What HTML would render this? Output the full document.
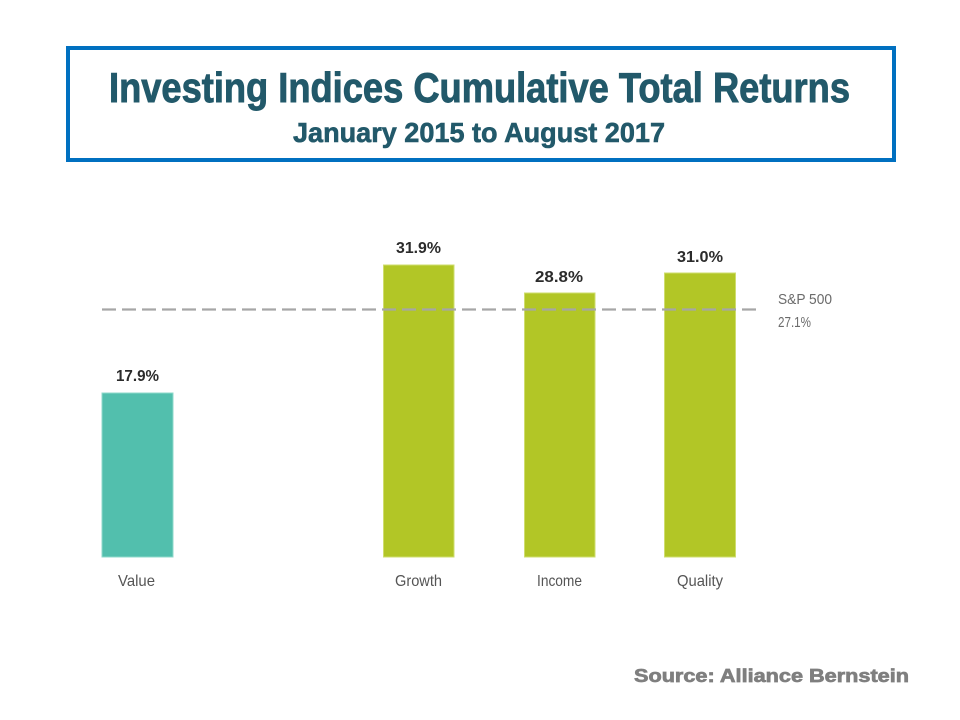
<!DOCTYPE html>
<html>
<head>
<meta charset="utf-8">
<style>
  html, body { margin: 0; padding: 0; background: #ffffff; }
  body { width: 960px; height: 720px; overflow: hidden; }
  svg { display: block; }
</style>
</head>
<body>
<svg width="960" height="720" viewBox="0 0 960 720" xmlns="http://www.w3.org/2000/svg">
  <rect x="0" y="0" width="960" height="720" fill="#ffffff"/>
  <!-- Title box -->
  <rect x="68" y="48" width="826" height="112" fill="#ffffff" stroke="#0070c0" stroke-width="4"/>
  <text x="109" y="102" font-family="Liberation Sans, Arial, sans-serif" font-weight="bold" font-size="42" fill="#22596a" stroke="#22596a" stroke-width="0.9" textLength="741" lengthAdjust="spacingAndGlyphs">Investing Indices Cumulative Total Returns</text>
  <text x="293" y="142" font-family="Liberation Sans, Arial, sans-serif" font-weight="bold" font-size="28" fill="#22596a" stroke="#22596a" stroke-width="0.6" textLength="372" lengthAdjust="spacingAndGlyphs">January 2015 to August 2017</text>

  <!-- Bars -->
  <rect x="102" y="393" width="71" height="164" fill="#52bfad" stroke="#8fd8cb" stroke-width="1"/>
  <rect x="383.5" y="265" width="70.5" height="292" fill="#b2c626" stroke="#cfdd6e" stroke-width="1"/>
  <rect x="524.5" y="293" width="70.5" height="264" fill="#b2c626" stroke="#cfdd6e" stroke-width="1"/>
  <rect x="664.5" y="273" width="71" height="284" fill="#b2c626" stroke="#cfdd6e" stroke-width="1"/>

  <!-- Dashed S&P line -->
  <line x1="102" y1="309.5" x2="762" y2="309.5" stroke="#a6a6a6" stroke-width="2.2" stroke-dasharray="14 6"/>

  <!-- Value labels -->
  <g font-family="Liberation Sans, Arial, sans-serif" font-weight="bold" font-size="16" fill="#2b2b2b">
    <text x="116" y="381" textLength="43" lengthAdjust="spacingAndGlyphs">17.9%</text>
    <text x="396" y="253" textLength="45" lengthAdjust="spacingAndGlyphs">31.9%</text>
    <text x="535" y="282" textLength="48" lengthAdjust="spacingAndGlyphs">28.8%</text>
    <text x="677" y="262" textLength="46" lengthAdjust="spacingAndGlyphs">31.0%</text>
  </g>

  <!-- S&P 500 label -->
  <g font-family="Liberation Sans, Arial, sans-serif" font-size="15" fill="#6b6b6b">
    <text x="778" y="304" textLength="54" lengthAdjust="spacingAndGlyphs">S&amp;P 500</text>
    <text x="778" y="327" textLength="33" lengthAdjust="spacingAndGlyphs">27.1%</text>
  </g>

  <!-- Category labels -->
  <g font-family="Liberation Sans, Arial, sans-serif" font-size="16" fill="#555555">
    <text x="118" y="586" textLength="37" lengthAdjust="spacingAndGlyphs">Value</text>
    <text x="395" y="586" textLength="47" lengthAdjust="spacingAndGlyphs">Growth</text>
    <text x="537" y="586" textLength="45" lengthAdjust="spacingAndGlyphs">Income</text>
    <text x="677" y="586" textLength="46" lengthAdjust="spacingAndGlyphs">Quality</text>
  </g>

  <!-- Source -->
  <text x="634" y="682" font-family="Liberation Sans, Arial, sans-serif" font-weight="bold" font-size="18" fill="#7f7f7f" stroke="#7f7f7f" stroke-width="0.7" textLength="275" lengthAdjust="spacingAndGlyphs">Source: Alliance Bernstein</text>
</svg>
</body>
</html>
